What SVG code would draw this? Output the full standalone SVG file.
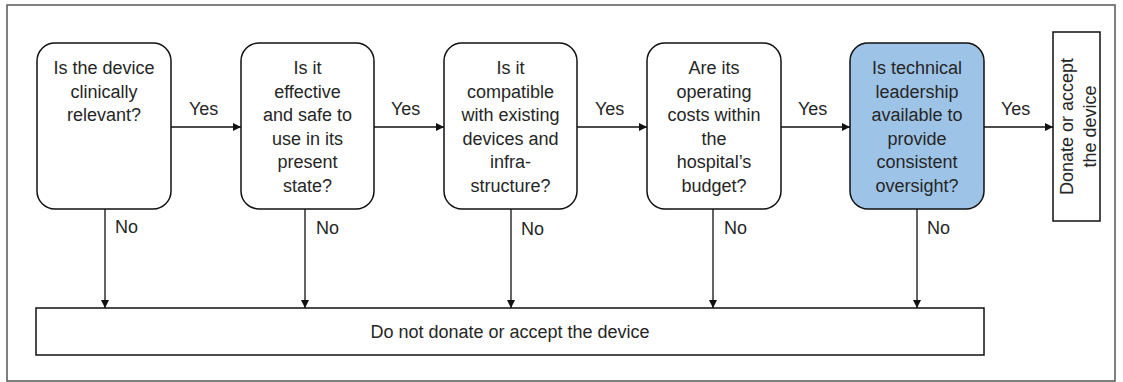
<svg xmlns="http://www.w3.org/2000/svg" width="1123" height="382" viewBox="0 0 1123 382">
<style>
text{font-family:"Liberation Sans",Arial,sans-serif;font-size:18px;fill:#262626}
.q{text-anchor:middle}
.box{fill:#fff;stroke:#111;stroke-width:1.5}
.blue{fill:#9DC3E6}
.edge{stroke:#111;stroke-width:1.3;fill:none;marker-end:url(#ah)}
</style>
<defs>
<marker id="ah" viewBox="0 0 10 10" refX="10" refY="5" markerWidth="8" markerHeight="8" markerUnits="userSpaceOnUse" orient="auto">
<path d="M0,0 L10,5 L0,10 z" fill="#111"/>
</marker>
</defs>
<rect x="7" y="5" width="1108" height="376" fill="#fff" stroke="#555" stroke-width="1.5"/>
<g id="connectors">
<line class="edge" x1="171" y1="127" x2="241" y2="127"/>
<line class="edge" x1="374" y1="127" x2="444" y2="127"/>
<line class="edge" x1="577" y1="127" x2="647" y2="127"/>
<line class="edge" x1="781" y1="127" x2="850" y2="127"/>
<line class="edge" x1="984" y1="127" x2="1053" y2="127"/>
<line class="edge" x1="105" y1="209" x2="105" y2="308"/>
<line class="edge" x1="305" y1="209" x2="305" y2="308"/>
<line class="edge" x1="511" y1="209" x2="511" y2="308"/>
<line class="edge" x1="713" y1="209" x2="713" y2="308"/>
<line class="edge" x1="917" y1="209" x2="917" y2="308"/>
<text x="189" y="115">Yes</text>
<text x="391" y="115">Yes</text>
<text x="595" y="115">Yes</text>
<text x="798" y="115">Yes</text>
<text x="1001" y="115">Yes</text>
<text x="115" y="233">No</text>
<text x="316" y="234">No</text>
<text x="521" y="235">No</text>
<text x="724" y="234">No</text>
<text x="927" y="234">No</text>
</g>
<g id="q1">
<rect class="box" x="37" y="43" width="134" height="166" rx="18"/>
<text class="q" x="104" y="74">Is the device</text>
<text class="q" x="104" y="97.5">clinically</text>
<text class="q" x="104" y="121">relevant?</text>
</g>
<g id="q2">
<rect class="box" x="241" y="43" width="133" height="166" rx="18"/>
<text class="q" x="307.5" y="74">Is it</text>
<text class="q" x="307.5" y="97.5">effective</text>
<text class="q" x="307.5" y="121">and safe to</text>
<text class="q" x="307.5" y="144.5">use in its</text>
<text class="q" x="307.5" y="168">present</text>
<text class="q" x="307.5" y="191.5">state?</text>
</g>
<g id="q3">
<rect class="box" x="444" y="43" width="133" height="166" rx="18"/>
<text class="q" x="510.5" y="74">Is it</text>
<text class="q" x="510.5" y="97.5">compatible</text>
<text class="q" x="510.5" y="121">with existing</text>
<text class="q" x="510.5" y="144.5">devices and</text>
<text class="q" x="510.5" y="168">infra-</text>
<text class="q" x="510.5" y="191.5">structure?</text>
</g>
<g id="q4">
<rect class="box" x="647" y="43" width="134" height="166" rx="18"/>
<text class="q" x="714" y="74">Are its</text>
<text class="q" x="714" y="97.5">operating</text>
<text class="q" x="714" y="121">costs within</text>
<text class="q" x="714" y="144.5">the</text>
<text class="q" x="714" y="168">hospital’s</text>
<text class="q" x="714" y="191.5">budget?</text>
</g>
<g id="q5">
<rect class="box blue" x="850" y="43" width="134" height="166" rx="18"/>
<text class="q" x="917" y="74">Is technical</text>
<text class="q" x="917" y="97.5">leadership</text>
<text class="q" x="917" y="121">available to</text>
<text class="q" x="917" y="144.5">provide</text>
<text class="q" x="917" y="168">consistent</text>
<text class="q" x="917" y="191.5">oversight?</text>
</g>
<g id="accept">
<rect class="box" x="1053" y="32" width="47" height="189"/>
<text class="q" transform="translate(1076.5,126.5) rotate(-90)"><tspan x="0" y="-4">Donate or accept</tspan><tspan x="0" y="19">the device</tspan></text>
</g>
<g id="reject">
<rect class="box" x="36" y="308" width="948" height="47"/>
<text class="q" x="510" y="338">Do not donate or accept the device</text>
</g>
</svg>
